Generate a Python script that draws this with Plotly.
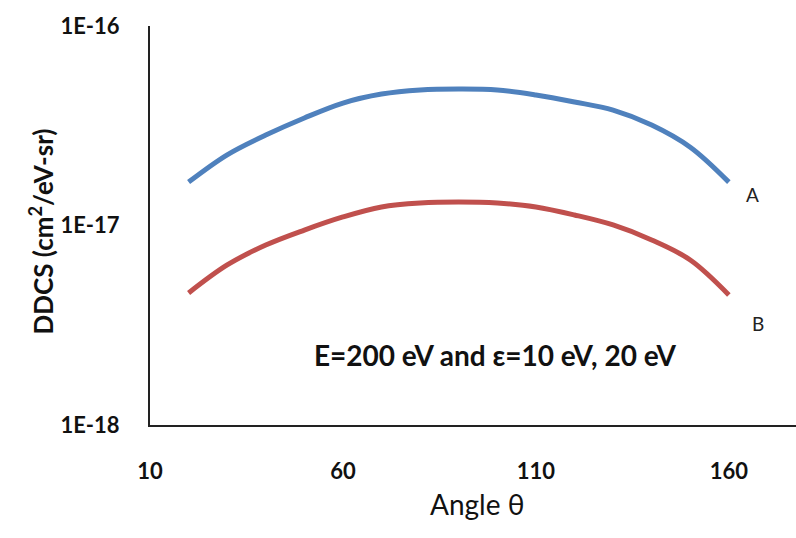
import plotly.graph_objects as go

# Scattering angle (degrees)
angle = [20, 30, 40, 50, 60, 70, 80, 90, 100, 110, 120, 130, 140, 150, 160]

# Double differential cross sections (cm^2/eV-sr)
ddcs_a = [1.65e-17, 2.26e-17, 2.84e-17, 3.46e-17, 4.11e-17, 4.56e-17, 4.78e-17,
          4.83e-17, 4.78e-17, 4.51e-17, 4.16e-17, 3.79e-17, 3.19e-17, 2.47e-17, 1.65e-17]
ddcs_b = [4.59e-18, 6.34e-18, 7.98e-18, 9.49e-18, 1.104e-17, 1.239e-17, 1.297e-17,
          1.312e-17, 1.297e-17, 1.239e-17, 1.129e-17, 1.006e-17, 8.46e-18, 6.72e-18, 4.49e-18]

x_ticks = [10, 60, 110, 160]
y_ticks = [1e-18, 1e-17, 1e-16]
y_tick_text = ["1E-18", "1E-17", "1E-16"]

FONT = "Lato"

fig = go.Figure()
fig.add_trace(go.Scatter(x=angle, y=ddcs_a, mode="lines", name="A",
                         line=dict(color="#4F81BD", width=5, shape="spline")))
fig.add_trace(go.Scatter(x=angle, y=ddcs_b, mode="lines", name="B",
                         line=dict(color="#C0504D", width=5, shape="spline")))

fig.update_layout(
    width=796, height=538,
    margin=dict(l=150, r=0, t=26, b=113),
    paper_bgcolor="white", plot_bgcolor="white",
    showlegend=False,
    font=dict(family=FONT, color="#111111"),
    xaxis=dict(range=[10, 177.4], tickvals=x_ticks, ticks="",
               showgrid=False, zeroline=False, showline=True,
               linecolor="#222222", linewidth=2,
               tickfont=dict(size=22, family=FONT, weight="bold"),
               ticklabelstandoff=26),
    yaxis=dict(type="log", range=[-18, -16], tickvals=y_ticks, ticktext=y_tick_text,
               ticks="", showgrid=False, zeroline=False, showline=True,
               linecolor="#222222", linewidth=2,
               tickfont=dict(size=22, family=FONT, weight="bold"),
               ticklabelstandoff=24),
)

# Curve labels
fig.add_annotation(x=166.2, y=-16.847, xref="x", yref="y", text="A", showarrow=False,
                   font=dict(size=19, family=FONT, color="#222222"))
fig.add_annotation(x=167.5, y=-17.489, xref="x", yref="y", text="B", showarrow=False,
                   font=dict(size=19, family=FONT, color="#222222"))

# Condition note
fig.add_annotation(x=99.4, y=-17.649, xref="x", yref="y",
                   text="E=200 eV and ε=10 eV, 20 eV", showarrow=False,
                   font=dict(size=28, family=FONT, weight="bold", color="#111111"))

# Axis titles
fig.add_annotation(x=(477 - 150) / 646, y=(425 - 523) / 399, xref="paper", yref="paper",
                   text="Angle θ", showarrow=False,
                   font=dict(size=28, family=FONT, color="#111111"))
fig.add_annotation(x=(22 - 150) / 646, y=(425 - 232) / 399, xref="paper", yref="paper",
                   text="DDCS (cm<sup>2</sup>/eV-sr)", showarrow=False, textangle=-90,
                   font=dict(size=26, family=FONT, weight="bold", color="#111111"))

fig.write_html("out.html")
